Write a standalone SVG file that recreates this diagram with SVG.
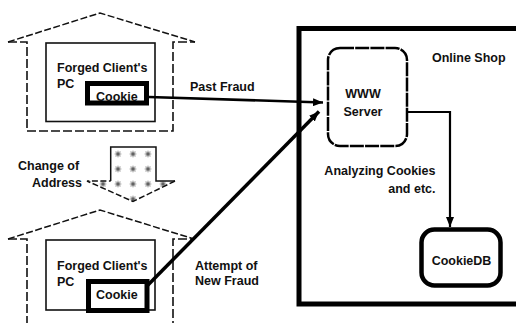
<svg xmlns="http://www.w3.org/2000/svg" width="516" height="323" viewBox="0 0 516 323">
<style>
text{font-family:"Liberation Sans",Arial,sans-serif;font-size:12.5px;font-weight:bold;fill:#111}
.wall{fill:none;stroke:#111;stroke-width:1.6;stroke-dasharray:9 3}
.roof{fill:none;stroke:#111;stroke-width:1.5;stroke-dasharray:7 2.5}
.pc{fill:none;stroke:#111;stroke-width:1.6}
.cookie{fill:#fff;stroke:#000;stroke-width:5}
.conn{fill:none;stroke:#000}
</style>
<defs>
<pattern id="dots" patternUnits="userSpaceOnUse" x="110.5" y="146.5" width="15" height="15">
<path d="M5,5 l5,5 M5,10 l5,-5 M7.5,4.5 v6 M4.5,7.5 h6" stroke="#555" stroke-width="0.9"/>
</pattern>
<marker id="ah" viewBox="0 0 10 8" refX="10" refY="4" markerWidth="10" markerHeight="8" markerUnits="userSpaceOnUse" orient="auto">
<path d="M0,0 L10,4 L0,8 z" fill="#000"/>
</marker>
</defs>

<g id="house-past">
<path class="roof" d="M8,42 L100,13 L195,42"/>
<path class="wall" d="M8,42 H27 V131 H173 V42 H195"/>
</g>
<g id="pc-past">
<rect class="pc" x="46" y="43" width="109" height="78.5"/>
<text x="57" y="72">Forged Client's</text>
<text x="57" y="88">PC</text>
</g>
<g id="cookie-past">
<rect class="cookie" x="87.5" y="83.5" width="59" height="19.5"/>
<text x="96" y="101">Cookie</text>
</g>

<g id="change-address">
<path d="M110.7,147 H156 V181 H175 L133,201.5 L87,181 H110.7 Z" fill="url(#dots)"/>
<path d="M110.7,181 V147 H156 V181 H175" fill="none" stroke="#111" stroke-width="1.5"/>
<path d="M175,181 L133,201.5 L87,181 H110.7" fill="none" stroke="#111" stroke-width="1.5" stroke-dasharray="6 2.5"/>
<text x="18" y="170">Change of</text>
<text x="82" y="187" text-anchor="end">Address</text>
</g>

<g id="house-new">
<path class="roof" d="M8,239 L100,210 L194,239"/>
<path class="wall" d="M8,239 H27 V330 M173,330 V239 H194"/>
</g>
<g id="pc-new">
<rect class="pc" x="46" y="240" width="109" height="70"/>
<text x="57" y="270">Forged Client's</text>
<text x="57" y="286">PC</text>
</g>
<g id="cookie-new">
<rect class="cookie" x="88.5" y="281.5" width="58.5" height="29"/>
<text x="96" y="299">Cookie</text>
</g>

<g id="online-shop">
<rect x="299" y="28.5" width="240" height="275.5" fill="none" stroke="#000" stroke-width="5"/>
<text x="432" y="62">Online Shop</text>
<text x="435.5" y="175" text-anchor="end">Analyzing Cookies</text>
<text x="435.5" y="193" text-anchor="end">and etc.</text>
</g>

<g id="www-server">
<rect x="328" y="48" width="79" height="98" rx="12" ry="12" fill="#fff" stroke="#000" stroke-width="2.5" stroke-dasharray="14 1.2"/>
<text x="363" y="98" text-anchor="middle">WWW</text>
<text x="363" y="115.5" text-anchor="middle">Server</text>
</g>

<g id="cookiedb">
<rect x="421.5" y="229.5" width="79" height="56" rx="13" ry="13" fill="#fff" stroke="#000" stroke-width="4.5"/>
<text x="461.5" y="265" text-anchor="middle">CookieDB</text>
</g>

<g id="connectors">
<text x="190" y="90.5">Past Fraud</text>
<path class="conn" d="M149,97 L323,102.5" stroke-width="2.6" marker-end="url(#ah)"/>
<text x="195" y="270">Attempt of</text>
<text x="195" y="285">New Fraud</text>
<path class="conn" d="M147,286 L319,111.5" stroke-width="3.5" marker-end="url(#ah)"/>
<path class="conn" d="M408,112 H450 V227" stroke-width="2.2" marker-end="url(#ah)"/>
</g>
</svg>
